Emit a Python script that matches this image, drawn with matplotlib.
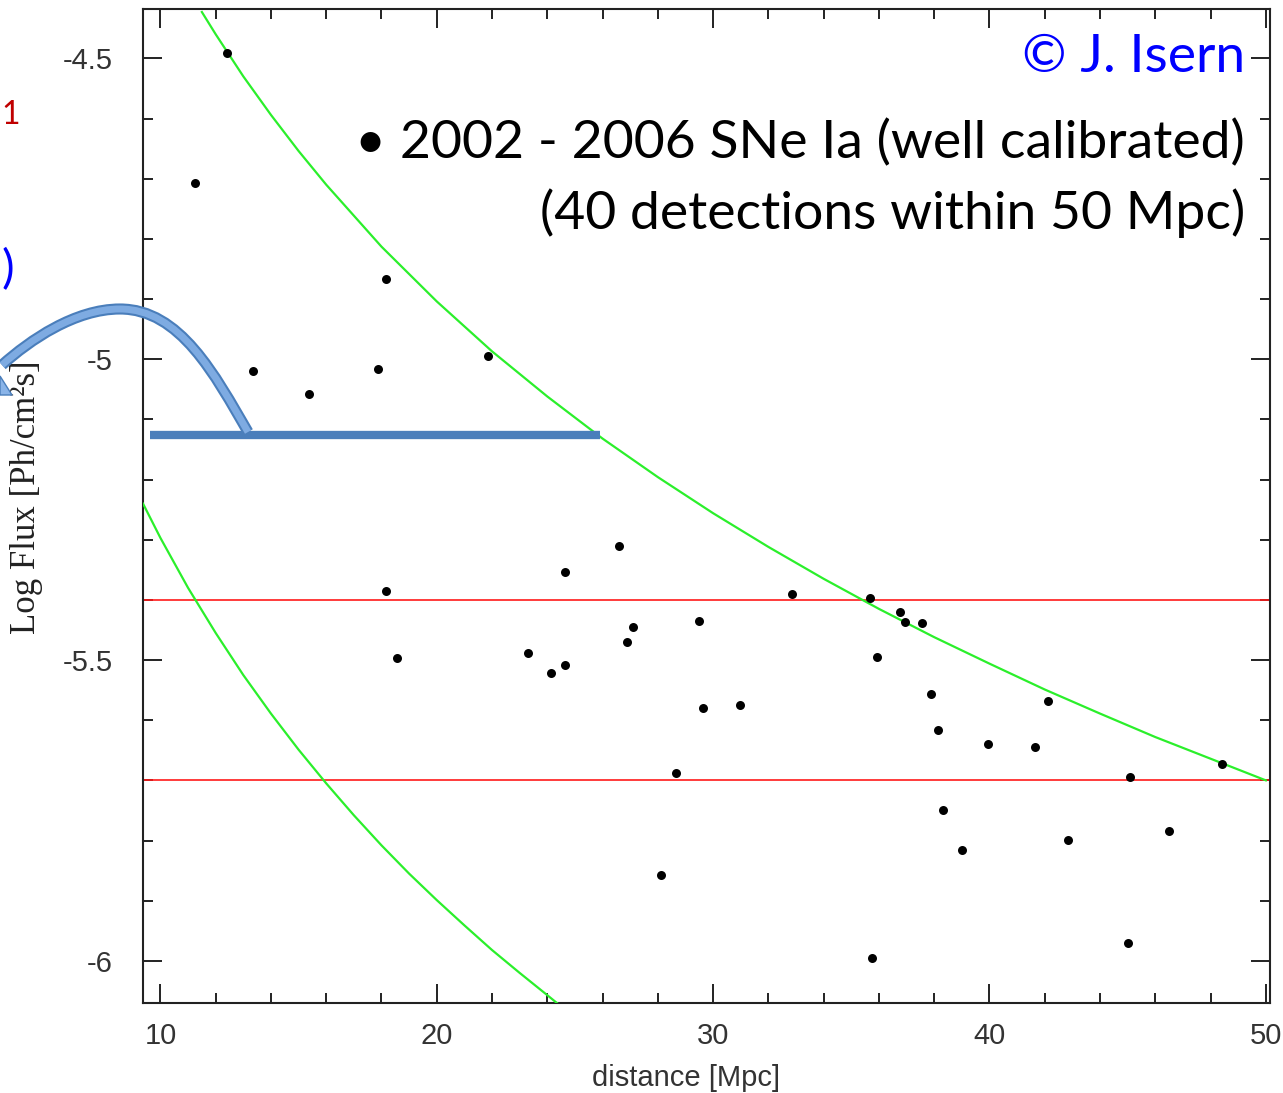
import matplotlib
matplotlib.use("Agg")
import matplotlib.pyplot as plt
from matplotlib.path import Path
from matplotlib.patches import PathPatch, Polygon
from matplotlib.transforms import Affine2D
from matplotlib.ticker import MultipleLocator, FixedLocator, FixedFormatter

plt.rcParams['axes.unicode_minus'] = False

# ---- data: SNe Ia detections (distance [Mpc], log flux [Ph/cm^2 s]) ----
distance = [12.41, 11.25, 18.16, 13.35, 17.87, 15.37, 21.85, 26.60, 24.64, 18.16,
            18.56, 23.30, 24.12, 24.64, 27.09, 26.87, 29.49, 29.62, 30.97, 28.66,
            28.11, 32.85, 35.67, 35.92, 36.77, 36.96, 37.55, 37.88, 38.14, 38.32,
            39.01, 39.95, 41.65, 42.12, 42.84, 45.08, 46.50, 48.42, 45.01, 35.75]
log_flux = [-4.491, -4.707, -4.867, -5.020, -5.016, -5.058, -4.995, -5.311, -5.353, -5.385,
            -5.496, -5.488, -5.522, -5.509, -5.445, -5.470, -5.435, -5.579, -5.574, -5.687,
            -5.857, -5.391, -5.397, -5.495, -5.420, -5.436, -5.438, -5.556, -5.616, -5.750,
            -5.816, -5.640, -5.645, -5.568, -5.799, -5.694, -5.784, -5.672, -5.971, -5.996]

# upper green curve
upper_d = [11.5, 12, 13, 14, 15, 16, 18, 20, 22, 24, 26, 28, 30, 32, 34, 36, 38, 40, 42, 44, 46, 48, 50]
upper_f = [-4.423, -4.460, -4.530, -4.594, -4.654, -4.710, -4.813, -4.904, -4.987, -5.062,
           -5.132, -5.196, -5.256, -5.312, -5.365, -5.415, -5.462, -5.506, -5.549, -5.589,
           -5.628, -5.664, -5.700]
# lower green curve
lower_d = [9.37, 10, 11, 12, 13, 14, 15, 16, 17, 18, 19, 20, 21, 22, 23, 24, 24.4]
lower_f = [-5.240, -5.297, -5.380, -5.455, -5.525, -5.589, -5.649, -5.705, -5.758, -5.808,
           -5.855, -5.899, -5.941, -5.982, -6.020, -6.057, -6.072]

# red horizontal levels
red_levels = [-5.40, -5.70]
# blue highlight bar: (x start, x end, level)
bar_x = [9.63, 25.9]
bar_level = -5.126

xticks = [10, 20, 30, 40, 50]
xtick_labels = ["10", "20", "30", "40", "50"]
yticks = [-6.0, -5.5, -5.0, -4.5]
ytick_labels = ["-6", "-5.5", "-5", "-4.5"]

W, H = 1283, 1093
fig = plt.figure(figsize=(W / 100, H / 100), dpi=100)
ax = fig.add_axes([143 / W, 1 - 1003 / H, (1270 - 143) / W, (1003 - 9) / H])

# pixel (from top-left) -> figure transform
pix = Affine2D().scale(1 / W, -1 / H).translate(0, 1) + fig.transFigure

ax.set_xlim(9.37, 50.15)
ax.set_ylim(-6.07, -4.418)

for lv in red_levels:
    ax.axhline(lv, color="#ff1a1a", lw=1.2, zorder=2)
ax.plot(upper_d, upper_f, color="#2bef2b", lw=1.6, zorder=3, clip_on=True)
ax.plot(lower_d, lower_f, color="#2bef2b", lw=1.6, zorder=3, clip_on=True)
ax.scatter(distance, log_flux, s=42, color="black", zorder=4, linewidths=0)

ax.plot(bar_x, [bar_level, bar_level], color="#4a7ebb", lw=6, solid_capstyle="butt",
        zorder=5, clip_on=False)

# ticks
ax.xaxis.set_major_locator(FixedLocator(xticks))
ax.xaxis.set_major_formatter(FixedFormatter(xtick_labels))
ax.xaxis.set_minor_locator(MultipleLocator(2))
ax.yaxis.set_major_locator(FixedLocator(yticks))
ax.yaxis.set_major_formatter(FixedFormatter(ytick_labels))
ax.yaxis.set_minor_locator(MultipleLocator(0.1))
ax.tick_params(which="both", direction="in", top=True, right=True, color="#222222", width=1.4)
ax.tick_params(which="major", length=14)
ax.tick_params(which="minor", length=7)
ax.tick_params(axis="y", which="major", pad=22, labelsize=21, labelcolor="#333333")
ax.tick_params(axis="x", which="major", pad=14, labelsize=21, labelcolor="#333333")
for lab in ax.get_xticklabels() + ax.get_yticklabels():
    lab.set_fontfamily("Liberation Sans")
for sp in ax.spines.values():
    sp.set_linewidth(1.5)
    sp.set_color("#222222")

fig.text(686 / W, 1 - 1078 / H, "distance [Mpc]", ha="center", va="center",
         fontsize=21, family="Liberation Sans", color="#333333")
fig.text(27 / W, 1 - 497 / H, "Log Flux [Ph/cm²s]", rotation=90, ha="center", va="center",
         fontsize=25, family="Liberation Serif", color="#222222")

# overlay texts
fig.text(1245 / W, 1 - 57 / H, "© J. Isern", ha="right", va="center", fontsize=38.5,
         family="Lato", color="#0000ff")
fig.text(1245 / W, 1 - 143 / H, "• 2002 - 2006 SNe Ia (well calibrated)", ha="right", va="center",
         fontsize=38.5, family="Lato", color="black")
fig.text(1245 / W, 1 - 213 / H, "(40 detections within 50 Mpc)", ha="right", va="center",
         fontsize=38.5, family="Lato", color="black")

# slide texts on the left edge
fig.text(1 / W, 1 - 115 / H, "1", ha="left", va="center", fontsize=23, family="Lato", color="#c00000")
fig.text(1 / W, 1 - 270 / H, ")", ha="left", va="center", fontsize=34, family="Lato", color="#0000ff")

# curved arrow (slide decoration)
verts = [(248, 432), (215, 375), (180, 309), (120, 309), (75, 309), (30, 340), (2, 365)]
codes = [Path.MOVETO, Path.CURVE4, Path.CURVE4, Path.CURVE4, Path.CURVE4, Path.CURVE4, Path.CURVE4]
arc = Path(verts, codes)
fig.add_artist(PathPatch(arc, transform=pix, fill=False, lw=8, edgecolor="#4a7ebb",
                         capstyle="butt", zorder=6))
fig.add_artist(PathPatch(arc, transform=pix, fill=False, lw=5, edgecolor="#7eabe2",
                         capstyle="butt", zorder=7))
fig.add_artist(Polygon([(0, 376), (12, 395), (0, 395)], closed=True, transform=pix,
                       facecolor="#8ab4e8", edgecolor="#4a7ebb", lw=1, zorder=7))

fig.savefig("out.png", dpi=100)
